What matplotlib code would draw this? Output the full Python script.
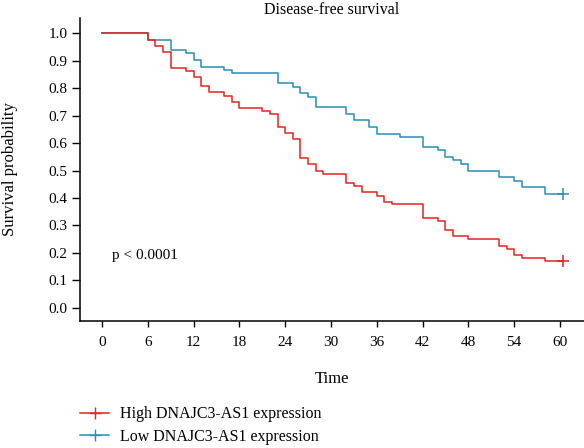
import matplotlib
matplotlib.use("Agg")
import matplotlib.pyplot as plt
from matplotlib.lines import Line2D

# Kaplan-Meier steps (time in months, survival probability)
high_times = [0, 6, 7, 8, 9, 11, 12, 13, 14, 16, 17, 18, 21, 22, 23, 24, 25, 26, 27,
              28, 29, 32, 33, 34, 36, 37, 38, 42, 44, 45, 46, 48, 52, 53, 54, 55, 58, 60.4]
high_surv = [1.0, 0.976, 0.954, 0.932, 0.875, 0.863, 0.842, 0.809, 0.785, 0.773, 0.751,
             0.728, 0.718, 0.705, 0.660, 0.636, 0.614, 0.547, 0.523, 0.499, 0.487, 0.453,
             0.445, 0.421, 0.408, 0.384, 0.377, 0.328, 0.317, 0.283, 0.261, 0.249, 0.226,
             0.215, 0.192, 0.180, 0.170, 0.170]

low_times = [0, 6, 9, 11, 12, 13, 16, 17, 23, 25, 26, 27, 28, 32, 33, 35, 36, 39, 42,
             44, 45, 46, 47, 48, 52, 54, 55, 58, 60.4]
low_surv = [1.0, 0.976, 0.939, 0.927, 0.903, 0.878, 0.866, 0.854, 0.818, 0.805, 0.781,
            0.769, 0.732, 0.707, 0.683, 0.659, 0.634, 0.622, 0.586, 0.574, 0.549, 0.537,
            0.525, 0.499, 0.475, 0.463, 0.439, 0.415, 0.415]

x_ticks = [0, 6, 12, 18, 24, 30, 36, 42, 48, 54, 60]
y_ticks = [0.0, 0.1, 0.2, 0.3, 0.4, 0.5, 0.6, 0.7, 0.8, 0.9, 1.0]
labels = ["High DNAJC3-AS1 expression", "Low DNAJC3-AS1 expression"]

red = "#e5231f"
blue = "#2a8db3"

plt.rcParams["font.family"] = ["Liberation Serif", "DejaVu Serif"]
plt.rcParams["font.size"] = 11

fig = plt.figure(figsize=(5.84, 4.48), dpi=100)
ax = fig.add_axes([80 / 584, 1 - 320.7 / 448, 1 - 80 / 584, (320.7 - 18.3) / 448])

ax.step(low_times, low_surv, where="post", color=blue, lw=1.1)
ax.step(high_times, high_surv, where="post", color=red, lw=1.1)
# censor marks at the end of follow-up
ax.plot(low_times[-1], low_surv[-1], marker="+", color=blue, ms=8, mew=1.1)
ax.plot(high_times[-1], high_surv[-1], marker="+", color=red, ms=8, mew=1.1)

ax.set_xlim(-2.88, 63.15)
ax.set_ylim(-0.047, 1.055)
ax.set_xticks(x_ticks)
ax.set_yticks(y_ticks)
ax.set_yticklabels(["%.1f" % v for v in y_ticks])
ax.tick_params(axis="x", length=4, width=1, pad=7, labelsize=11)
ax.tick_params(axis="y", length=6, width=1, pad=3, labelsize=11)
for s in ["top", "right"]:
    ax.spines[s].set_visible(False)
for s in ["left", "bottom"]:
    ax.spines[s].set_linewidth(1.1)

ax.set_title("Disease-free survival", pad=3, fontsize=11.5)
ax.set_xlabel("Time", fontsize=12)
ax.xaxis.set_label_coords(0.5, -(379 - 320.7) / 302.4)
ax.xaxis.label.set_va("center")
ax.set_ylabel("Survival probability", fontsize=12)
ax.yaxis.set_label_coords(-(80 - 10) / 503, 0.5)
ax.yaxis.label.set_va("center")
ax.text(1.3, 0.192, "p < 0.0001", ha="left", va="center", fontsize=11)

handles = [Line2D([], [], color=red, marker="+", ms=8, lw=1.1),
           Line2D([], [], color=blue, marker="+", ms=8, lw=1.1)]
fig.legend(handles, labels, loc="upper left", bbox_to_anchor=(74 / 584, 1 - 400 / 448),
           frameon=False, handlelength=1.8, handletextpad=0.7, labelspacing=0.4,
           borderaxespad=0, fontsize=11.5)

fig.savefig("out.png", dpi=100)
